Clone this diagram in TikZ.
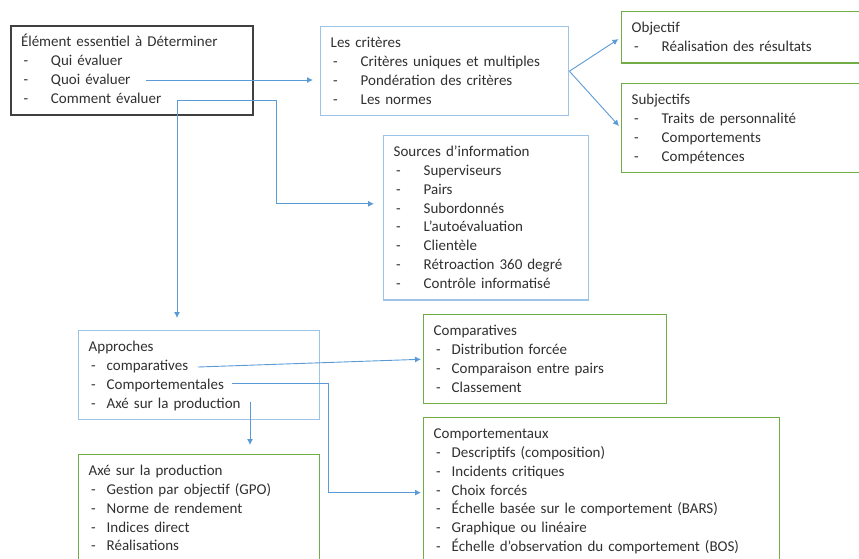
\documentclass[tikz,border=0pt]{standalone}
\usepackage{fontspec}
\setmainfont{Carlito}
\usepackage{tikz}
\usetikzlibrary{arrows.meta, positioning, calc}

\definecolor{linkblue}{HTML}{5B9BD5}
\definecolor{frameblue}{HTML}{9DC3E6}
\definecolor{framegreen}{HTML}{70AD47}
\definecolor{framegray}{HTML}{404040}
\definecolor{inkgray}{HTML}{303030}

% first line of a box, and one list line: dash, then the item text
\newcommand{\hstrut}{\rule{0pt}{15pt}}
\newcommand{\itm}[2][30pt]{\\\strut\makebox[#1][l]{\,-}#2}

\begin{document}
\begin{tikzpicture}[
    x=1pt, y=-1pt,
    card/.style={draw=#1, line width=1.4pt, anchor=north west, inner xsep=10pt, inner ysep=6pt,
        align=left, text=inkgray, font=\fontsize{15}{18.8}\selectfont},
    arrow/.style={-{Latex[length=6pt, width=6pt]}, linkblue, line width=0.9pt}
]
    \useasboundingbox (0,0) rectangle (859,559);

    % top row
    \node[card=framegray, line width=2pt, text width=222pt] (elem) at (10,25)
        {\hstrut Élément essentiel à Déterminer\itm{Qui évaluer}\itm{Quoi évaluer}\itm{Comment évaluer\strut}};
    \node[card=frameblue, text width=228pt] (crit) at (320,26)
        {\hstrut Les critères\itm{Critères uniques et multiples}\itm{Pondération des critères}\itm{Les normes\strut}};
    \node[card=framegreen, text width=224pt] (obj) at (621,11)
        {\hstrut Objectif\itm{Réalisation des résultats\strut}};
    \node[card=framegreen, text width=224pt] (subj) at (621,83)
        {\hstrut Subjectifs\itm{Traits de personnalité}\itm{Comportements}\itm{Compétences\strut}};

    % sources
    \node[card=frameblue, text width=185pt] (src) at (383,135)
        {\hstrut Sources d’information\itm{Superviseurs}\itm{Pairs}\itm{Subordonnés}\itm{L’autoévaluation}%
         \itm{Clientèle}\itm{Rétroaction 360 degré}\itm{Contrôle informatisé\strut}};

    % approches
    \node[card=frameblue, text width=221pt] (appr) at (78,330)
        {\hstrut Approches\itm[18pt]{comparatives}\itm[18pt]{Comportementales}\itm[18pt]{Axé sur la production\strut}};
    \node[card=framegreen, text width=221pt] (prod) at (78,454)
        {\hstrut Axé sur la production\itm[18pt]{Gestion par objectif (GPO)}\itm[18pt]{Norme de rendement}%
         \itm[18pt]{Indices direct}\itm[18pt]{Réalisations\rule[-16pt]{0pt}{0pt}}};
    \node[card=framegreen, text width=223pt] (compa) at (423,314)
        {\hstrut Comparatives\itm[18pt]{Distribution forcée}\itm[18pt]{Comparaison entre pairs}\itm[18pt]{Classement\strut}};
    \node[card=framegreen, text width=336pt] (compo) at (423,417)
        {\hstrut Comportementaux\itm[18pt]{Descriptifs (composition)}\itm[18pt]{Incidents critiques}%
         \itm[18pt]{Choix forcés}\itm[18pt]{Échelle basée sur le comportement (BARS)}\itm[18pt]{Graphique ou linéaire}%
         \itm[18pt]{Échelle d’observation du comportement (BOS)\rule[-10pt]{0pt}{0pt}}};

    % connector ends at the item texts
    \coordinate (quoi) at (146,80);
    \coordinate (comment) at (177,100);
    \coordinate (compar) at (198,367);
    \coordinate (comport) at (232,383);
    \coordinate (axe) at (250,402);

    % arrows
    \draw[arrow, shorten >=7pt] (quoi) -- (crit.west |- quoi);
    \draw[arrow, shorten >=9pt] (comment) -- ++(99,0) |- ([yshift=14pt]src.west);
    \draw[arrow, shorten >=12pt] (comment) -- (comment |- appr.north);
    \draw[arrow, shorten >=3pt] (crit.east) -- (obj.west);
    \draw[arrow, shorten >=3pt] (crit.east) -- (subj.west);
    \draw[arrow, shorten >=2pt] (compar) -- (compa.west);
    \draw[arrow, shorten >=2pt] (comport) -- ++(96,0) |- (compo.west);
    \draw[arrow, shorten >=9pt] (axe) -- (axe |- prod.north);
\end{tikzpicture}
\end{document}
